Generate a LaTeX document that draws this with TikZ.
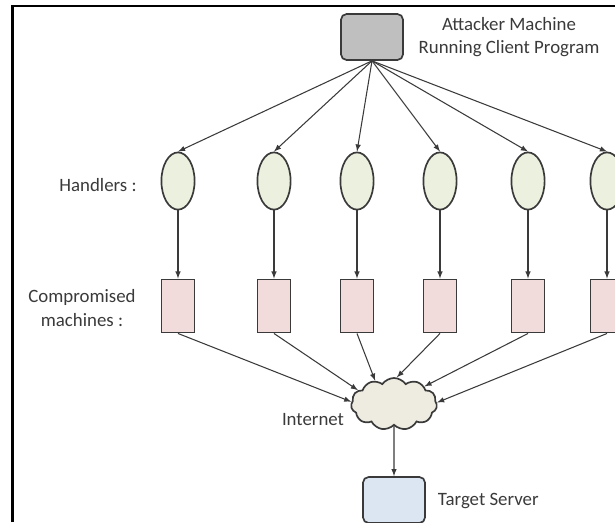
\documentclass[tikz,border=0pt]{standalone}
\usepackage{fontspec}
\setmainfont{Carlito}
\usetikzlibrary{shapes.geometric, shapes.symbols}

\definecolor{attfill}{HTML}{BFBFBF}
\definecolor{handfill}{HTML}{EBF1DE}
\definecolor{machfill}{HTML}{F2DCDB}
\definecolor{netfill}{HTML}{EEECE1}
\definecolor{srvfill}{HTML}{DCE6F2}
\definecolor{ink}{HTML}{3A3A3A}

\begin{document}
\begin{tikzpicture}[> = latex, x = 0.025cm, y = -0.025cm,
	every node/.style = {font = \fontsize{13.4}{16.4}\selectfont, text = ink},
	handler/.style = {ellipse, draw = ink, line width = 1.2pt, fill = handfill,
		minimum width = 0.83cm, minimum height = 1.43cm, inner sep = 0pt},
	machine/.style = {rectangle, draw = ink, line width = 1.2pt, fill = machfill,
		minimum width = 0.83cm, minimum height = 1.33cm, inner sep = 0pt},
	link/.style = {->, draw = ink, line width = 0.75pt}]

	\useasboundingbox (0, 0) rectangle (615, 522);

	% Frame
	
	\draw [line width = 1.6pt] (12.5, 522) -- (12.5, 6) -- (615, 6);
	
	% Attacker + target
	
	\node [draw = ink, line width = 1.2pt, fill = attfill, rounded corners = 4pt,
		minimum width = 1.55cm, minimum height = 1.15cm] (att) at (372, 37) {};
	\node [align = center] (attlbl) at (509, 37) {Attacker Machine\\Running Client Program};
	
	\node [draw = ink, line width = 1.2pt, fill = srvfill, rounded corners = 4pt,
		minimum width = 1.55cm, minimum height = 1.15cm] (srv) at (394, 500) {};
	\node [right] (srvlbl) at (433, 501) {Target Server};
	
	% Handlers
	
	\node (hlbl) at (98, 185) {Handlers :};
	
	\node [handler] (h1) at (178, 181) {};
	\node [handler] (h2) at (274, 181) {};
	\node [handler] (h3) at (357, 181) {};
	\node [handler] (h4) at (440, 181) {};
	\node [handler] (h5) at (528, 181) {};
	\node [handler] (h6) at (607, 181) {};
	
	% Compromised machines
	
	\node [align = center] (mlbl) at (82, 308) {Compromised\\machines :};
	
	\node [machine] (m1) at (178, 306) {};
	\node [machine] (m2) at (274, 306) {};
	\node [machine] (m3) at (357, 306) {};
	\node [machine] (m4) at (440, 306) {};
	\node [machine] (m5) at (528, 306) {};
	\node [machine] (m6) at (607, 306) {};
	
	% Internet cloud
	
	\node [cloud, cloud puffs = 11, cloud puff arc = 110, aspect = 1.8, draw = ink,
		line width = 1.2pt, fill = netfill, minimum width = 2.15cm,
		minimum height = 1.3cm, inner sep = 0pt] (net) at (394, 404) {};
	\node (netlbl) at (313, 420) {Internet};
	
	% Connectors
	
	\begin{scope}[link]
	
		\draw (att.south) -- (h1.north);
		\draw (att.south) -- (h2.north);
		\draw (att.south) -- (h3.north);
		\draw (att.south) -- (h4.north);
		\draw (att.south) -- (h5.north);
		\draw (att.south) -- (h6.north);
		
		\draw (h1) -- (m1);
		\draw (h2) -- (m2);
		\draw (h3) -- (m3);
		\draw (h4) -- (m4);
		\draw (h5) -- (m5);
		\draw (h6) -- (m6);
		
		\draw (m1.south) -- (net.177);
		\draw (m2.south) -- (net.159);
		\draw (m3.south) -- (net.129);
		\draw (m4.south) -- (net.84);
		\draw (m5.south) -- (net.30);
		\draw (m6.south) -- (net.2);
		
		\draw (net) -- (srv);
	
	\end{scope}

\end{tikzpicture}
\end{document}
